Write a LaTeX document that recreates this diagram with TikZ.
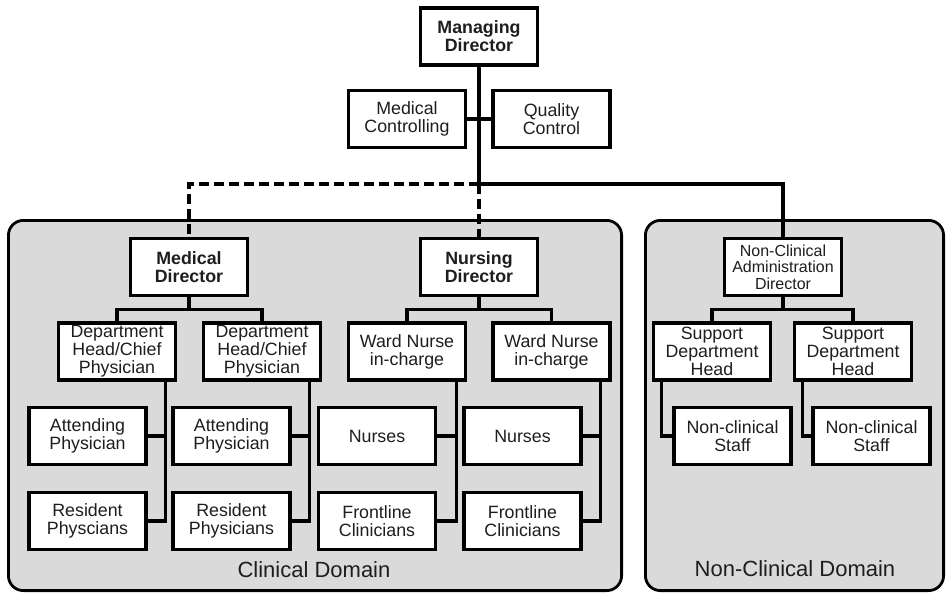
\documentclass[tikz,border=0pt]{standalone}
\usepackage{fontspec}
\setmainfont{Liberation Sans}
\definecolor{panelgray}{RGB}{218,218,218}
\definecolor{ink}{RGB}{30,30,30}
\begin{document}
\begin{tikzpicture}[x=1pt,y=-1pt,
  box/.style={draw=black, fill=white, line width=3.4pt, minimum width=117pt,
    minimum height=57pt, inner sep=0pt, align=center, text=ink,
    font=\fontsize{17.8}{18.2}\selectfont},
  headbox/.style={box, font=\fontsize{17.8}{18}\selectfont\bfseries},
  smallbox/.style={box, font=\fontsize{16}{16.6}\selectfont},
  conn/.style={draw=black, line width=3.4pt},
  dashlink/.style={conn, dash pattern=on 10pt off 5pt},
  panel/.style={draw=black, fill=panelgray, line width=2.8pt, rounded corners=15pt},
  domainlabel/.style={text=ink, font=\fontsize{22}{24}\selectfont}]

\useasboundingbox (0,0) rectangle (946,594);
\fill[white] (0,0) rectangle (946,594);

% domain panels
\draw[panel] (8.4,220.4) rectangle (621.6,590.6);
\draw[panel] (645.4,220.4) rectangle (943.6,590.6);
\node[domainlabel] (clin) at (314,570) {Clinical Domain};
\node[domainlabel] (nonclin) at (795,569) {Non-Clinical Domain};

% top level
\node[headbox] (md) at (479,36.5) {Managing\\Director};
\node[box] (mc) at (407,119) {Medical\\Controlling};
\node[box] (qc) at (551.5,119) {Quality\\Control};

% directors
\node[headbox] (meddir) at (189,267) {Medical\\Director};
\node[headbox] (nursdir) at (479,267) {Nursing\\Director};
\node[smallbox] (ncad) at (783,267) {Non-Clinical\\Administration\\Director};

% heads
\node[box] (dh1) at (117,351.5) {Department\\Head/Chief\\Physician};
\node[box] (dh2) at (262,351.5) {Department\\Head/Chief\\Physician};
\node[box] (wn1) at (407,351.5) {Ward Nurse\\in-charge};
\node[box] (wn2) at (551.5,351.5) {Ward Nurse\\in-charge};
\node[box] (sd1) at (712,351.5) {Support\\Department\\Head};
\node[box] (sd2) at (853,351.5) {Support\\Department\\Head};

% staff
\node[box] (ap1) at (87.5,436) {Attending\\Physician};
\node[box] (rp1) at (87.5,521) {Resident\\Physcians};
\node[box] (ap2) at (231.5,436) {Attending\\Physician};
\node[box] (rp2) at (231.5,521) {Resident\\Physicians};
\node[box] (nu1) at (377,436) {Nurses};
\node[box] (fc1) at (377,521) {Frontline\\Clinicians};
\node[box] (nu2) at (522.5,436) {Nurses};
\node[box] (fc2) at (522.5,521) {Frontline\\Clinicians};
\node[box] (ns1) at (732.5,436) {Non-clinical\\Staff};
\node[box] (ns2) at (871.5,436) {Non-clinical\\Staff};

% reporting lines from the top
\coordinate (hub) at (479,184);
\coordinate (lcorner) at (189,184);
\coordinate (rcorner) at (783,184);
\draw[conn] (md.south) -- (hub);
\draw[conn] (mc.east) -- (qc.west);
\draw[dashlink] (hub) -- (lcorner) -- (meddir.north);
\draw[dashlink] (hub) -- (nursdir.north);
\draw[conn] (hub) -- (rcorner) -- (ncad.north);

% director brackets
\draw[conn] (meddir.south) -- ++(0,12.5) coordinate (mdb);
\draw[conn] (dh1.north) |- (mdb) -| (dh2.north);
\draw[conn] (nursdir.south) -- ++(0,12.5) coordinate (ndb);
\draw[conn] (wn1.north) |- (ndb) -| (wn2.north);
\draw[conn] (ncad.south) -- ++(0,12.5) coordinate (adb);
\draw[conn] (sd1.north) |- (adb) -| (sd2.north);

% staff lines, right side of each head
\coordinate (v1) at ([xshift=-11.5pt]dh1.south east);
\coordinate (v2) at ([xshift=-12.5pt]dh2.south east);
\coordinate (v3) at ([xshift=-11pt]wn1.south east);
\coordinate (v4) at ([xshift=-11.5pt]wn2.south east);
\draw[conn] (v1) |- (rp1.east);  \draw[conn] (ap1.east) -- (ap1.east -| v1);
\draw[conn] (v2) |- (rp2.east);  \draw[conn] (ap2.east) -- (ap2.east -| v2);
\draw[conn] (v3) |- (fc1.east);  \draw[conn] (nu1.east) -- (nu1.east -| v3);
\draw[conn] (v4) |- (fc2.east);  \draw[conn] (nu2.east) -- (nu2.east -| v4);

% staff lines, left side of each support head
\coordinate (v5) at ([xshift=9.5pt]sd1.south west);
\coordinate (v6) at ([xshift=9.5pt]sd2.south west);
\draw[conn] (v5) |- (ns1.west);
\draw[conn] (v6) |- (ns2.west);

\end{tikzpicture}
\end{document}
